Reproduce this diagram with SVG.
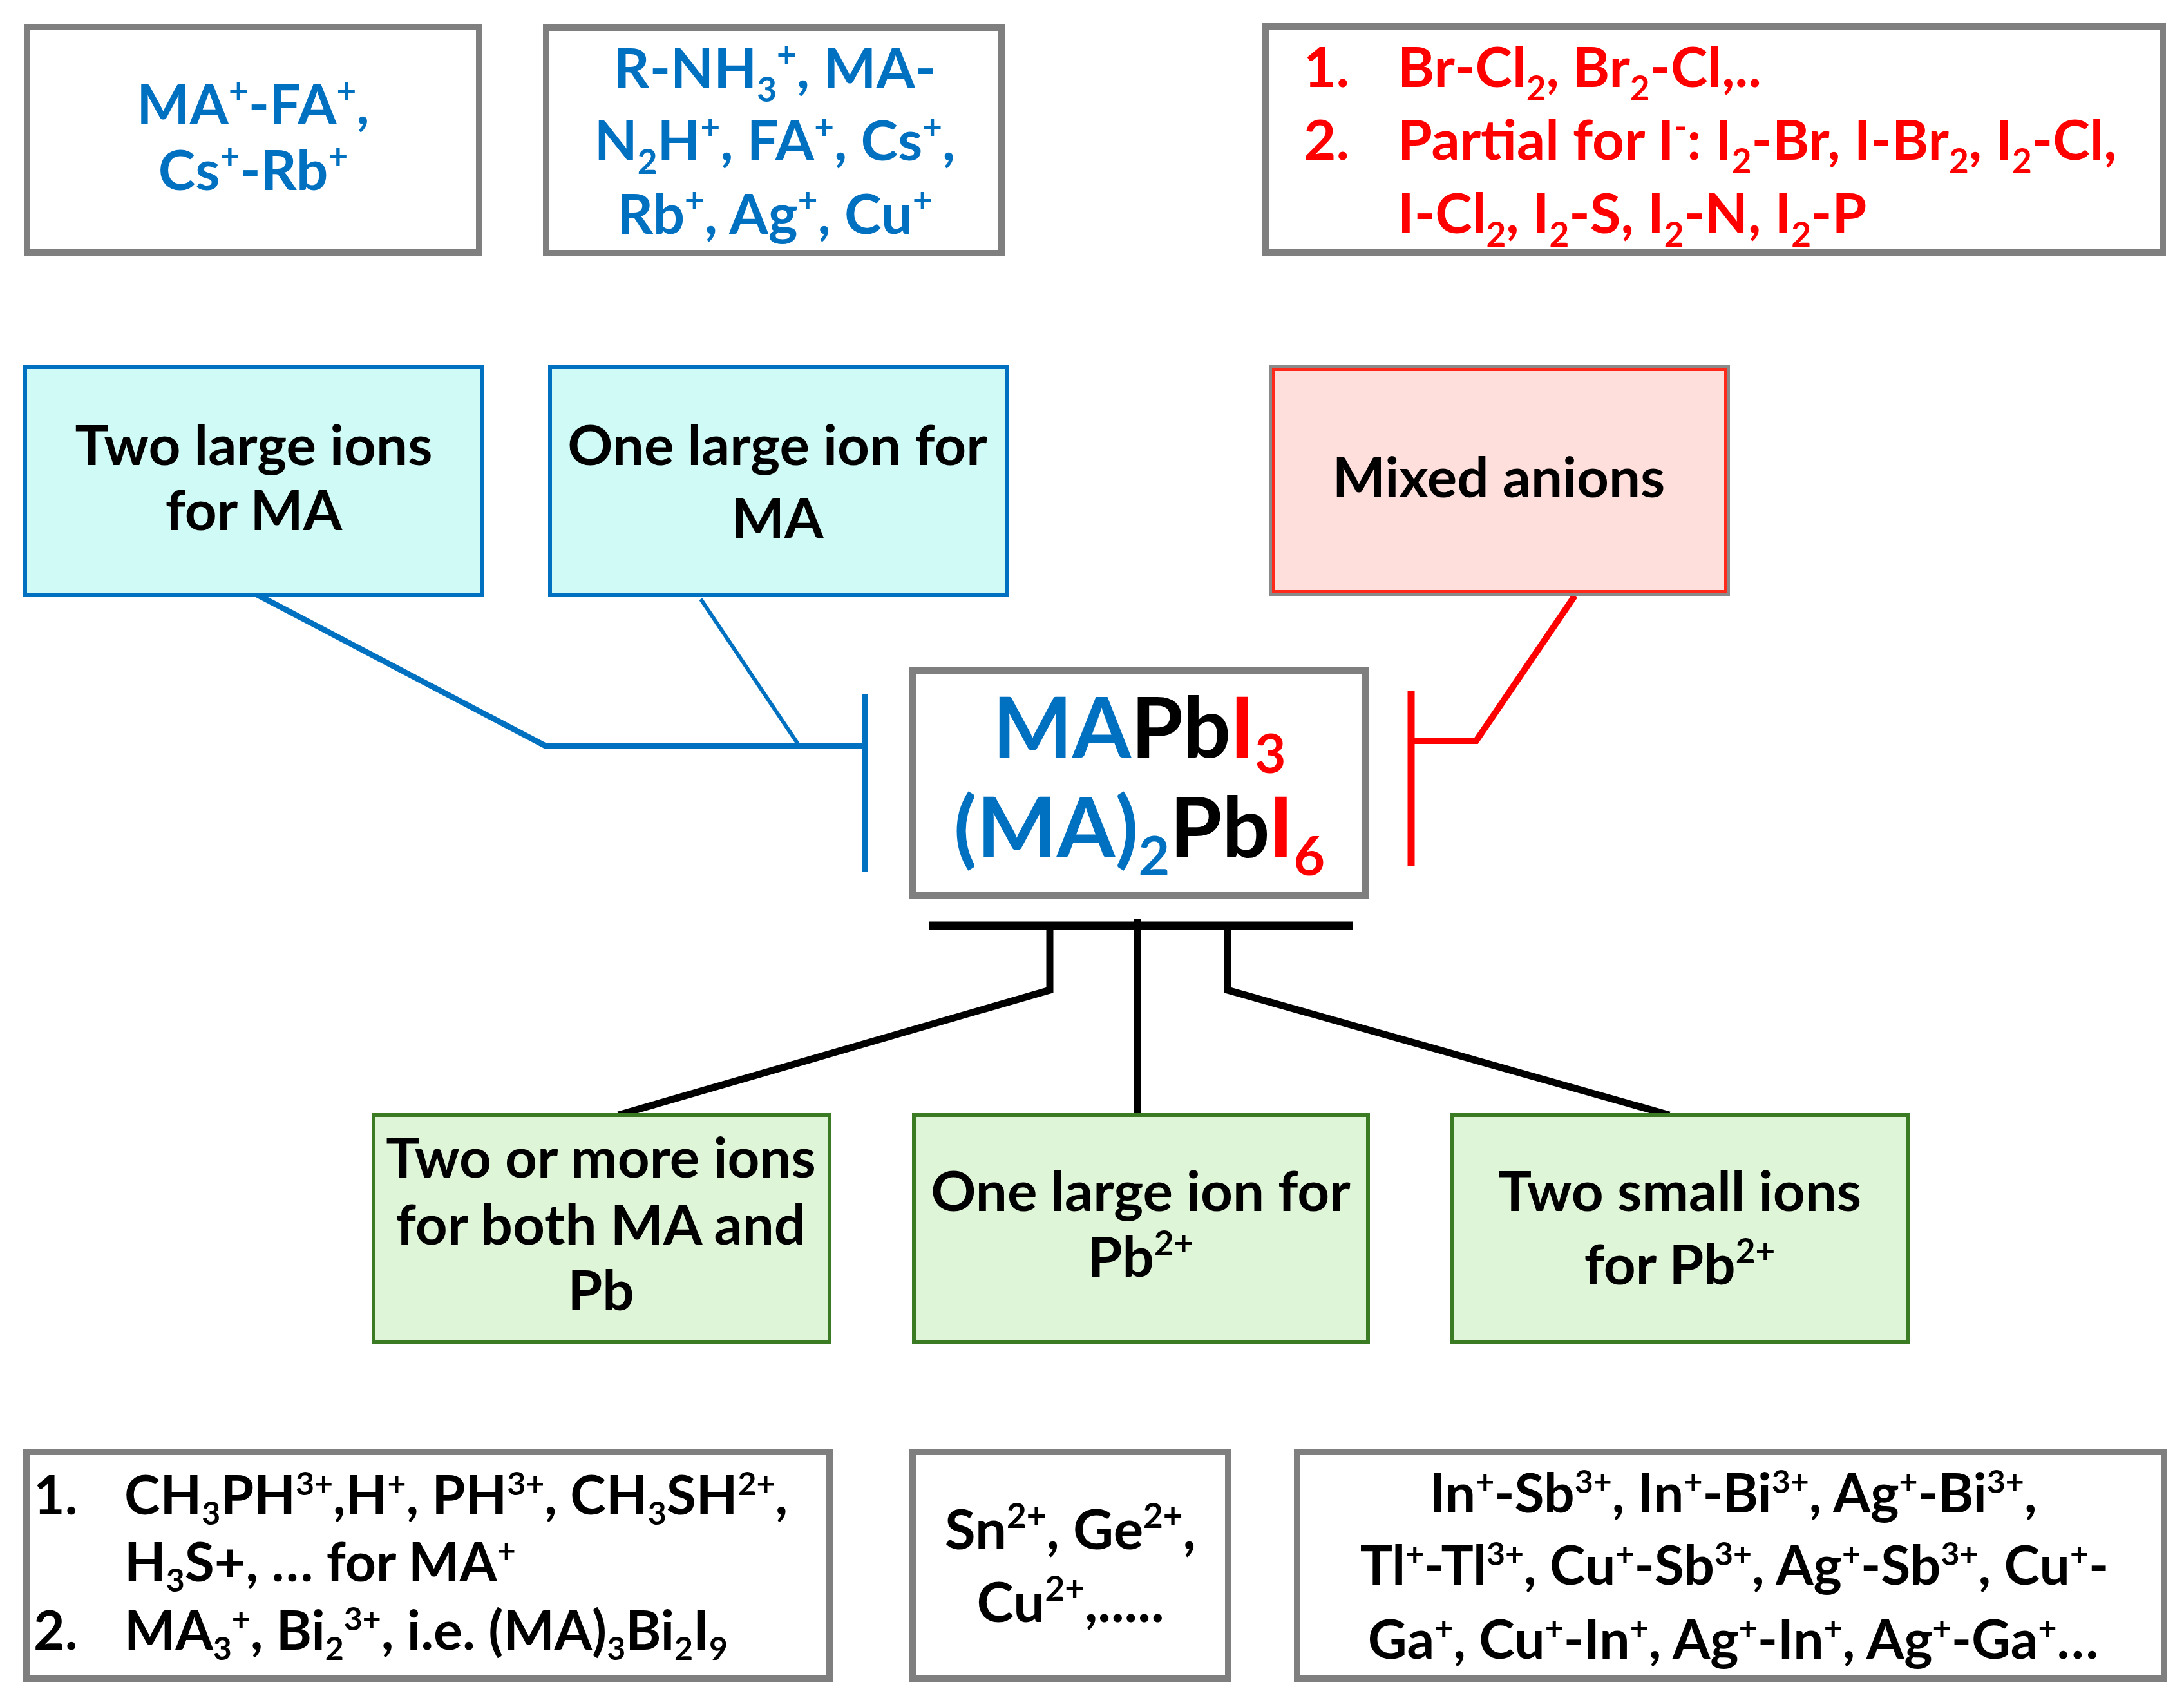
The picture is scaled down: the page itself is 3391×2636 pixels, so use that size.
<svg xmlns="http://www.w3.org/2000/svg" width="3391" height="2636" viewBox="0 0 3391 2636">
<style>
text{font-family:Lato,"Liberation Sans",sans-serif;font-weight:bold;font-size:87px;}
.m{font-size:84px;}
.c{text-anchor:middle;}
.blue{fill:#0070C0;}
.red{fill:#FF0000;}
.blk{fill:#000000;}
.s{font-size:53px;}
.ms{font-size:50px;}
.big{font-size:131px;}
.bs{font-size:84px;}
.gbox{fill:#FFFFFF;stroke:#7F7F7F;stroke-width:10;}
.cbox{fill:#D0FAF5;stroke:#0070C0;stroke-width:6;}
.pbox{fill:#FFDFDC;stroke:#8A8A8A;stroke-width:8;}
.grbox{fill:#DFF5D7;stroke:#3B7B23;stroke-width:6;}
.ln{fill:none;stroke-linejoin:miter;stroke-linecap:butt;}
</style>
<rect width="3391" height="2636" fill="#FFFFFF"/>

<g id="connectors">
<path class="ln" d="M397 922 L847 1158 L1343 1158" stroke="#0070C0" stroke-width="9"/>
<path class="ln" d="M1088 930 L1241 1158" stroke="#0070C0" stroke-width="6"/>
<path class="ln" d="M1343 1078 L1343 1353" stroke="#0070C0" stroke-width="9"/>
<path class="ln" d="M2445 925 L2292 1150 L2191 1150" stroke="#FF0000" stroke-width="10"/>
<path class="ln" d="M2191 1073 L2191 1345" stroke="#FF0000" stroke-width="11"/>
<path class="ln" d="M1443 1437 L2100 1437" stroke="#000000" stroke-width="13"/>
<path class="ln" d="M1630 1437 L1630 1537 L960 1731" stroke="#000000" stroke-width="11"/>
<path class="ln" d="M1766 1427 L1766 1731" stroke="#000000" stroke-width="11"/>
<path class="ln" d="M1906 1437 L1906 1537 L2592 1731" stroke="#000000" stroke-width="11"/>
</g>

<g id="box-a">
<rect class="gbox" x="42" y="42" width="702" height="350"/>
<text class="c blue" x="393" y="193">MA<tspan class="s" dy="-33">+</tspan><tspan dy="33">-FA</tspan><tspan class="s" dy="-33">+</tspan><tspan dy="33">,</tspan></text>
<text class="c blue" x="393" y="295">Cs<tspan class="s" dy="-33">+</tspan><tspan dy="33">-Rb</tspan><tspan class="s" dy="-33">+</tspan></text>
</g>

<g id="box-b">
<rect class="gbox" x="848" y="43" width="707" height="350"/>
<text class="c blue" x="1203" y="137">R-NH<tspan class="s" dy="21">3</tspan><tspan class="s" dy="-54">+</tspan><tspan dy="33">, MA-</tspan></text>
<text class="c blue" x="1203" y="249">N<tspan class="s" dy="21">2</tspan><tspan dy="-21">H</tspan><tspan class="s" dy="-33">+</tspan><tspan dy="33">, FA</tspan><tspan class="s" dy="-33">+</tspan><tspan dy="33">, Cs</tspan><tspan class="s" dy="-33">+</tspan><tspan dy="33">,</tspan></text>
<text class="c blue" x="1203" y="363">Rb<tspan class="s" dy="-33">+</tspan><tspan dy="33">, Ag</tspan><tspan class="s" dy="-33">+</tspan><tspan dy="33">, Cu</tspan><tspan class="s" dy="-33">+</tspan></text>
</g>

<g id="box-c">
<rect class="gbox" x="1965" y="41" width="1393" height="351"/>
<text class="red" x="2024" y="135">1.</text>
<text class="red" x="2170" y="135">Br-Cl<tspan class="s" dy="21">2</tspan><tspan dy="-21">, Br</tspan><tspan class="s" dy="21">2</tspan><tspan dy="-21">-Cl,..</tspan></text>
<text class="red" x="2024" y="248">2.</text>
<text class="red" x="2170" y="248">Partial for I<tspan class="s" dy="-33">-</tspan><tspan dy="33">: I</tspan><tspan class="s" dy="21">2</tspan><tspan dy="-21">-Br, I-Br</tspan><tspan class="s" dy="21">2</tspan><tspan dy="-21">, I</tspan><tspan class="s" dy="21">2</tspan><tspan dy="-21">-Cl,</tspan></text>
<text class="red" x="2170" y="362">I-Cl<tspan class="s" dy="21">2</tspan><tspan dy="-21">, I</tspan><tspan class="s" dy="21">2</tspan><tspan dy="-21">-S, I</tspan><tspan class="s" dy="21">2</tspan><tspan dy="-21">-N, I</tspan><tspan class="s" dy="21">2</tspan><tspan dy="-21">-P</tspan></text>
</g>

<g id="box-d">
<rect class="cbox" x="39" y="570" width="709" height="354"/>
<text class="c blk" x="394" y="722">Two large ions</text>
<text class="c blk" x="394" y="823">for MA</text>
</g>

<g id="box-e">
<rect class="cbox" x="854" y="570" width="710" height="354"/>
<text class="c blk" x="1207" y="722">One large ion for</text>
<text class="c blk" x="1207" y="835">MA</text>
</g>

<g id="box-f">
<rect class="pbox" x="1974" y="571" width="708" height="350"/>
<rect x="1977" y="574" width="702" height="344" fill="none" stroke="#FF2A1A" stroke-width="4"/>
<text class="c blk" x="2327" y="772">Mixed anions</text>
</g>

<g id="center">
<rect class="gbox" x="1417" y="1041" width="703" height="349"/>
<text class="c big" x="1769" y="1176"><tspan class="blue">MA</tspan><tspan class="blk">Pb</tspan><tspan class="red">I</tspan><tspan class="red bs" dy="24">3</tspan></text>
<text class="c big" x="1769" y="1331"><tspan class="blue">(MA)</tspan><tspan class="blue bs" dy="28">2</tspan><tspan class="blk" dy="-28">Pb</tspan><tspan class="red">I</tspan><tspan class="red bs" dy="28">6</tspan></text>
</g>

<g id="box-g1">
<rect class="grbox" x="580" y="1731" width="708" height="353"/>
<text class="c blk" x="933" y="1828">Two or more ions</text>
<text class="c blk" x="933" y="1932">for both MA and</text>
<text class="c blk" x="933" y="2034">Pb</text>
</g>

<g id="box-g2">
<rect class="grbox" x="1419" y="1731" width="705" height="353"/>
<text class="c blk" x="1771" y="1880">One large ion for</text>
<text class="c blk" x="1771" y="1982">Pb<tspan class="s" dy="-33">2+</tspan></text>
</g>

<g id="box-g3">
<rect class="grbox" x="2255" y="1731" width="707" height="353"/>
<text class="c blk" x="2608" y="1880">Two small ions</text>
<text class="c blk" x="2608" y="1994">for Pb<tspan class="s" dy="-33">2+</tspan></text>
</g>

<g id="box-h1">
<rect class="gbox" x="41" y="2254" width="1247" height="352"/>
<text class="blk m" x="52" y="2351">1.</text>
<text class="blk m" x="193" y="2351">CH<tspan class="ms" dy="16">3</tspan><tspan dy="-16">PH</tspan><tspan class="ms" dy="-30">3+</tspan><tspan dy="30">,H</tspan><tspan class="ms" dy="-30">+</tspan><tspan dy="30">, PH</tspan><tspan class="ms" dy="-30">3+</tspan><tspan dy="30">, CH</tspan><tspan class="ms" dy="16">3</tspan><tspan dy="-16">SH</tspan><tspan class="ms" dy="-30">2+</tspan><tspan dy="30">,</tspan></text>
<text class="blk m" x="193" y="2455">H<tspan class="ms" dy="16">3</tspan><tspan dy="-16">S+, … for MA</tspan><tspan class="ms" dy="-30">+</tspan></text>
<text class="blk m" x="52" y="2561">2.</text>
<text class="blk m" x="193" y="2561">MA<tspan class="ms" dy="16">3</tspan><tspan class="ms" dy="-46">+</tspan><tspan dy="30">, Bi</tspan><tspan class="ms" dy="16">2</tspan><tspan class="ms" dy="-46">3+</tspan><tspan dy="30">, i.e. (MA)</tspan><tspan class="ms" dy="16">3</tspan><tspan dy="-16">Bi</tspan><tspan class="ms" dy="16">2</tspan><tspan dy="-16">I</tspan><tspan class="ms" dy="16">9</tspan></text>
</g>

<g id="box-h2">
<rect class="gbox" x="1417" y="2254" width="490" height="352"/>
<text class="c blk" x="1662" y="2405">Sn<tspan class="s" dy="-33">2+</tspan><tspan dy="33">, Ge</tspan><tspan class="s" dy="-33">2+</tspan><tspan dy="33">,</tspan></text>
<text class="c blk" x="1662" y="2518">Cu<tspan class="s" dy="-33">2+</tspan><tspan dy="33">,.....</tspan></text>
</g>

<g id="box-h3">
<rect class="gbox" x="2014" y="2254" width="1346" height="352"/>
<text class="c blk m" x="2691" y="2348">In<tspan class="ms" dy="-30">+</tspan><tspan dy="30">-Sb</tspan><tspan class="ms" dy="-30">3+</tspan><tspan dy="30">, In</tspan><tspan class="ms" dy="-30">+</tspan><tspan dy="30">-Bi</tspan><tspan class="ms" dy="-30">3+</tspan><tspan dy="30">, Ag</tspan><tspan class="ms" dy="-30">+</tspan><tspan dy="30">-Bi</tspan><tspan class="ms" dy="-30">3+</tspan><tspan dy="30">,</tspan></text>
<text class="c blk m" x="2693" y="2460">Tl<tspan class="ms" dy="-30">+</tspan><tspan dy="30">-Tl</tspan><tspan class="ms" dy="-30">3+</tspan><tspan dy="30">, Cu</tspan><tspan class="ms" dy="-30">+</tspan><tspan dy="30">-Sb</tspan><tspan class="ms" dy="-30">3+</tspan><tspan dy="30">, Ag</tspan><tspan class="ms" dy="-30">+</tspan><tspan dy="30">-Sb</tspan><tspan class="ms" dy="-30">3+</tspan><tspan dy="30">, Cu</tspan><tspan class="ms" dy="-30">+</tspan><tspan dy="30">-</tspan></text>
<text class="c blk m" x="2691" y="2575">Ga<tspan class="ms" dy="-30">+</tspan><tspan dy="30">, Cu</tspan><tspan class="ms" dy="-30">+</tspan><tspan dy="30">-In</tspan><tspan class="ms" dy="-30">+</tspan><tspan dy="30">, Ag</tspan><tspan class="ms" dy="-30">+</tspan><tspan dy="30">-In</tspan><tspan class="ms" dy="-30">+</tspan><tspan dy="30">, Ag</tspan><tspan class="ms" dy="-30">+</tspan><tspan dy="30">-Ga</tspan><tspan class="ms" dy="-30">+</tspan><tspan dy="30">…</tspan></text>
</g>
</svg>
